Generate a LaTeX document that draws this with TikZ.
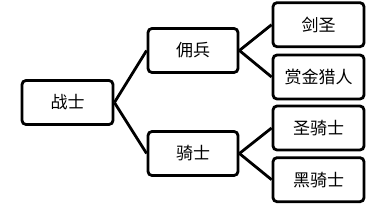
\documentclass[tikz,border=0pt]{standalone}
\usepackage{fontspec}
\newfontfamily\cjk{Noto Sans CJK SC}
\begin{document}
\begin{tikzpicture}[x=1pt,y=-1pt,
  box/.style={draw=black,line width=2.8pt,rounded corners=4pt,fill=white,
    minimum height=44pt,inner sep=0pt,font=\cjk\fontsize{17}{17}\selectfont},
  link/.style={line width=2.8pt,black}]
\useasboundingbox (0,0) rectangle (385,205);
\node[box,minimum width=91pt] (zs) at (67.5,102.5) {战士};
\node[box,minimum width=90pt] (yb) at (193,50.5) {佣兵};
\node[box,minimum width=90pt] (qs) at (193,153.5) {骑士};
\node[box,minimum width=91pt] (js) at (318.5,24.7) {剑圣};
\node[box,minimum width=91pt] (sj) at (318.5,77) {赏金猎人};
\node[box,minimum width=91pt] (sq) at (318.5,128) {圣骑士};
\node[box,minimum width=91pt] (hq) at (318.5,179.7) {黑骑士};
\draw[link] (zs.east) -- (yb.west);
\draw[link] (zs.east) -- (qs.west);
\draw[link] (yb.east) -- (js.west);
\draw[link] (yb.east) -- (sj.west);
\draw[link] (qs.east) -- (sq.west);
\draw[link] (qs.east) -- (hq.west);
\end{tikzpicture}
\end{document}
